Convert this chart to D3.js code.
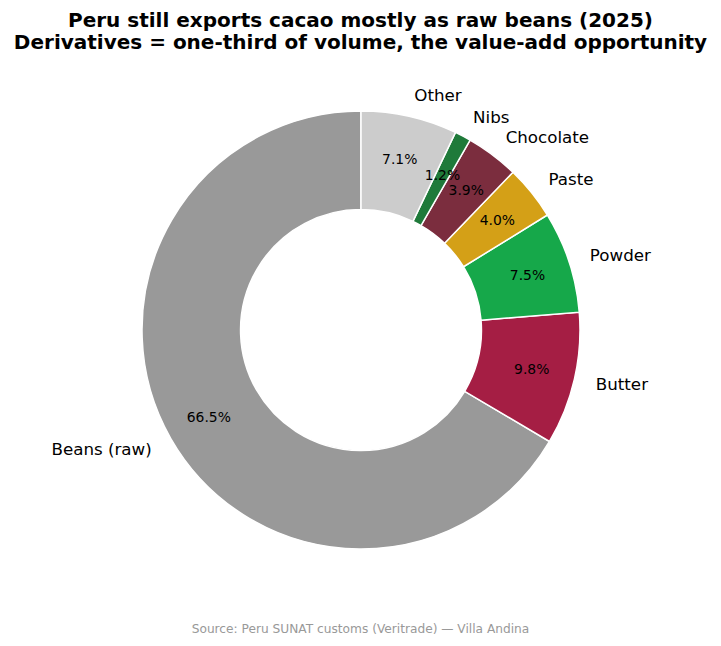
<!DOCTYPE html>
<html lang="en">
<head>
<meta charset="utf-8">
<title>Peru cacao exports</title>
<script src="https://cdn.jsdelivr.net/npm/d3@7"></script>
<style>
    body { margin: 0; background: white; }
    text { font-family: "DejaVu Sans", sans-serif; }
</style>
</head>
<body>
<script>
    var categories = ["Beans (raw)", "Butter", "Powder", "Paste", "Chocolate", "Nibs", "Other"];
    var shares = [66.5, 9.8, 7.5, 4.0, 3.9, 1.2, 7.1];
    var colors = ["#999999", "#a51e44", "#16a84a", "#d4a017", "#7b2d3e", "#1f7a3a", "#cccccc"];

    var w = 721, h = 646;
    var cx = 361, cy = 330;
    var outerR = 219, innerR = outerR * 0.55;

    var svg = d3.select("body").append("svg")
        .attr("width", w)
        .attr("height", h);

    // title, two lines
    var title = svg.append("text")
        .attr("x", w / 2)
        .attr("text-anchor", "middle")
        .attr("font-size", "20px")
        .attr("font-weight", "bold");
    title.append("tspan").attr("x", w / 2).attr("y", 27)
        .text("Peru still exports cacao mostly as raw beans (2025)");
    title.append("tspan").attr("x", w / 2).attr("y", 49)
        .text("Derivatives = one-third of volume, the value-add opportunity");

    var data = categories.map(function(c, i) {
        return {name: c, value: shares[i], color: colors[i]};
    });

    // counterclockwise from 12 o'clock, like matplotlib startangle=90
    var pie = d3.pie()
        .sort(null)
        .value(function(d) { return d.value; })
        .startAngle(0)
        .endAngle(-2 * Math.PI);

    var arc = d3.arc().innerRadius(innerR).outerRadius(outerR);
    var pctArc = d3.arc().innerRadius(outerR * 0.8).outerRadius(outerR * 0.8);
    var lblArc = d3.arc().innerRadius(outerR * 1.1).outerRadius(outerR * 1.1);

    var g = svg.append("g").attr("transform", "translate(" + cx + "," + cy + ")");
    var arcs = pie(data);

    g.selectAll("path")
        .data(arcs)
        .enter()
        .append("path")
        .attr("d", arc)
        .attr("fill", function(d) { return d.data.color; })
        .attr("stroke", "white")
        .attr("stroke-width", 1.5);

    g.selectAll("text.pct")
        .data(arcs)
        .enter()
        .append("text")
        .attr("class", "pct")
        .attr("transform", function(d) { return "translate(" + pctArc.centroid(d) + ")"; })
        .attr("text-anchor", "middle")
        .attr("dominant-baseline", "central")
        .attr("font-size", "13.9px")
        .text(function(d) { return d.data.value.toFixed(1) + "%"; });

    g.selectAll("text.lbl")
        .data(arcs)
        .enter()
        .append("text")
        .attr("class", "lbl")
        .attr("transform", function(d) { return "translate(" + lblArc.centroid(d) + ")"; })
        .attr("text-anchor", function(d) { return lblArc.centroid(d)[0] > 0 ? "start" : "end"; })
        .attr("dominant-baseline", "central")
        .attr("font-size", "16.7px")
        .text(function(d) { return d.data.name; });

    svg.append("text")
        .attr("x", w / 2)
        .attr("y", 633)
        .attr("text-anchor", "middle")
        .attr("font-size", "12.2px")
        .attr("fill", "#999999")
        .text("Source: Peru SUNAT customs (Veritrade) \u2014 Villa Andina");
</script>
</body>
</html>
